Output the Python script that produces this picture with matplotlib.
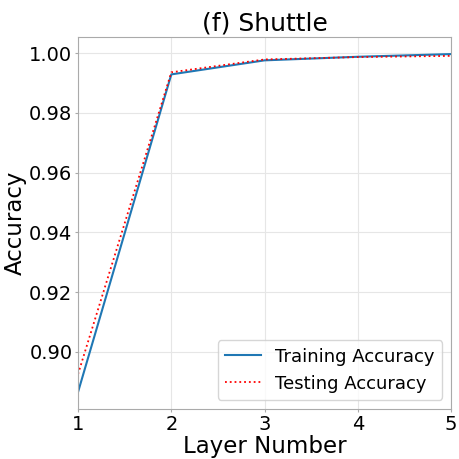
import matplotlib
matplotlib.use('Agg')
import matplotlib.pyplot as plt

layers = [1, 2, 3, 4, 5]
train_acc = [0.8865, 0.9929, 0.9976, 0.9988, 0.9997]
test_acc = [0.8925, 0.9936, 0.9979, 0.9987, 0.9991]

fig, ax = plt.subplots(figsize=(4.59, 4.59), dpi=100)
ax.plot(layers, train_acc, color='#1f77b4', linewidth=1.5, label='Training Accuracy')
ax.plot(layers, test_acc, color='red', linestyle=':', linewidth=1.3, label='Testing Accuracy')

ax.set_title('(f) Shuttle', fontsize=18, pad=5)
ax.set_xlabel('Layer Number', fontsize=16.5, labelpad=1)
ax.set_ylabel('Accuracy', fontsize=16.5, labelpad=2)
ax.set_xlim(1, 5)
ax.set_xticks(layers)
ax.tick_params(labelsize=14, length=2.5, pad=1.5, color='#aaaaaa')
ax.grid(True, color='#e6e6e6')
for s in ax.spines.values():
    s.set_color('#aaaaaa')
ax.legend(loc='lower right', fontsize=13)

fig.subplots_adjust(left=0.17, right=0.983, top=0.919, bottom=0.109)
fig.savefig('out.png', dpi=100)
